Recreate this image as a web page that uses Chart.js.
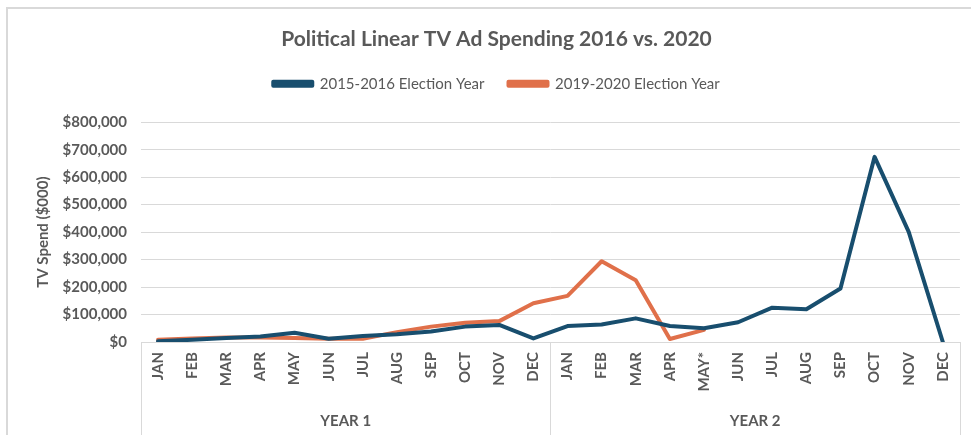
<!DOCTYPE html>
<html>
<head>
<meta charset="utf-8">
<script src="https://cdn.jsdelivr.net/npm/chart.js@4"></script>
<style>
  html, body { margin: 0; padding: 0; background: #ffffff; }
  #wrap { width: 971px; height: 435px; position: relative; }
</style>
</head>
<body>
<div id="wrap"><canvas id="c" width="971" height="435"></canvas></div>
<script>
const months = ['JAN','FEB','MAR','APR','MAY','JUN','JUL','AUG','SEP','OCT','NOV','DEC',
                'JAN','FEB','MAR','APR','MAY*','JUN','JUL','AUG','SEP','OCT','NOV','DEC'];
const yearGroups = ['YEAR 1', 'YEAR 2'];
const series2016 = [3000, 8000, 15000, 20000, 34000, 12000, 22000, 28000, 38000, 56000, 62000, 13000,
                    58000, 64000, 86000, 58000, 50000, 72000, 125000, 119000, 195000, 674000, 401000, 0];
const series2020 = [8000, 13000, 16000, 16000, 15000, 12000, 12000, 36000, 56000, 70000, 76000, 141000,
                    168000, 294000, 225000, 11000, 44000, null, null, null, null, null, null, null];
const seriesNames = ['2015-2016 Election Year', '2019-2020 Election Year'];

const TXT = '#595959';
const GRID = '#d9d9d9';
const FONT = 'Lato, "Open Sans", sans-serif';

const frame = {
  id: 'frame',
  beforeDraw(chart) {
    const ctx = chart.ctx;
    ctx.save();
    ctx.strokeStyle = GRID;
    ctx.lineWidth = 2;
    ctx.strokeRect(7, 8, chart.width + 20, chart.height + 20);
    ctx.restore();
  },
  afterDraw(chart) {
    const x = chart.scales.x;
    const ctx = chart.ctx;
    const bottom = chart.height;
    ctx.save();
    ctx.strokeStyle = GRID;
    ctx.lineWidth = 1;
    [-0.5, 11.5, 23.5].forEach(v => {
      const px = Math.round(x.getPixelForValue(v)) + 0.5;
      ctx.beginPath();
      ctx.moveTo(px, chart.chartArea.bottom);
      ctx.lineTo(px, bottom);
      ctx.stroke();
    });
    ctx.restore();
  }
};

const legendGap = {
  id: 'legendGap',
  beforeInit(chart) {
    const fit = chart.legend.fit;
    chart.legend.fit = function () {
      fit.bind(chart.legend)();
      this.height += 21;
    };
  }
};

new Chart(document.getElementById('c'), {
  type: 'line',
  data: {
    labels: months,
    datasets: [
      { label: seriesNames[0], data: series2016, borderColor: '#184E6E', backgroundColor: '#184E6E',
        borderWidth: 4, pointRadius: 0, tension: 0, borderJoinStyle: 'round', borderCapStyle: 'round' },
      { label: seriesNames[1], data: series2020, borderColor: '#E0704A', backgroundColor: '#E0704A',
        borderWidth: 4, pointRadius: 0, tension: 0, borderJoinStyle: 'round', borderCapStyle: 'round', spanGaps: false }
    ]
  },
  options: {
    responsive: false,
    animation: false,
    layout: { padding: { left: 30, right: 8, top: 8, bottom: 0 } },
    plugins: {
      title: {
        display: true,
        text: 'Political Linear TV Ad Spending 2016 vs. 2020',
        color: TXT,
        font: { family: FONT, size: 21, weight: 'bold' },
        padding: { top: 19, bottom: 0 }
      },
      legend: {
        display: true,
        position: 'top',
        labels: {
          color: TXT,
          font: { family: FONT, size: 15 },
          boxWidth: 39,
          boxHeight: 4,
          padding: 24
        }
      },
      tooltip: { enabled: false }
    },
    scales: {
      y: {
        min: 0, max: 800000,
        afterFit(scale) { scale.width = 111; },
        ticks: {
          stepSize: 100000,
          color: TXT,
          font: { family: FONT, size: 15, weight: 'bold' },
          padding: 14,
          callback: v => '$' + Number(v).toLocaleString('en-US')
        },
        grid: { color: GRID, lineWidth: 1, drawTicks: false },
        border: { display: false },
        title: {
          display: true,
          text: 'TV Spend ($000)',
          color: TXT,
          font: { family: FONT, size: 15, weight: 'bold' },
          padding: { top: 4, bottom: 0 }
        }
      },
      x: {
        type: 'category',
        offset: true,
        afterFit(scale) { scale.height = 55; },
        ticks: {
          color: TXT,
          font: { family: FONT, size: 15, weight: 'bold' },
          minRotation: 90, maxRotation: 90,
          autoSkip: false,
          padding: 10
        },
        grid: { display: false, drawTicks: false },
        border: { display: true, color: GRID, width: 1 }
      },
      x2: {
        type: 'category',
        position: 'bottom',
        labels: yearGroups,
        offset: true,
        afterFit(scale) { scale.height = 38; },
        ticks: {
          color: TXT,
          font: { family: FONT, size: 15, weight: 'bold' },
          maxRotation: 0, minRotation: 0,
          padding: 15
        },
        grid: { display: false, drawTicks: false },
        border: { display: false }
      }
    }
  },
  plugins: [frame, legendGap]
});
</script>
</body>
</html>
